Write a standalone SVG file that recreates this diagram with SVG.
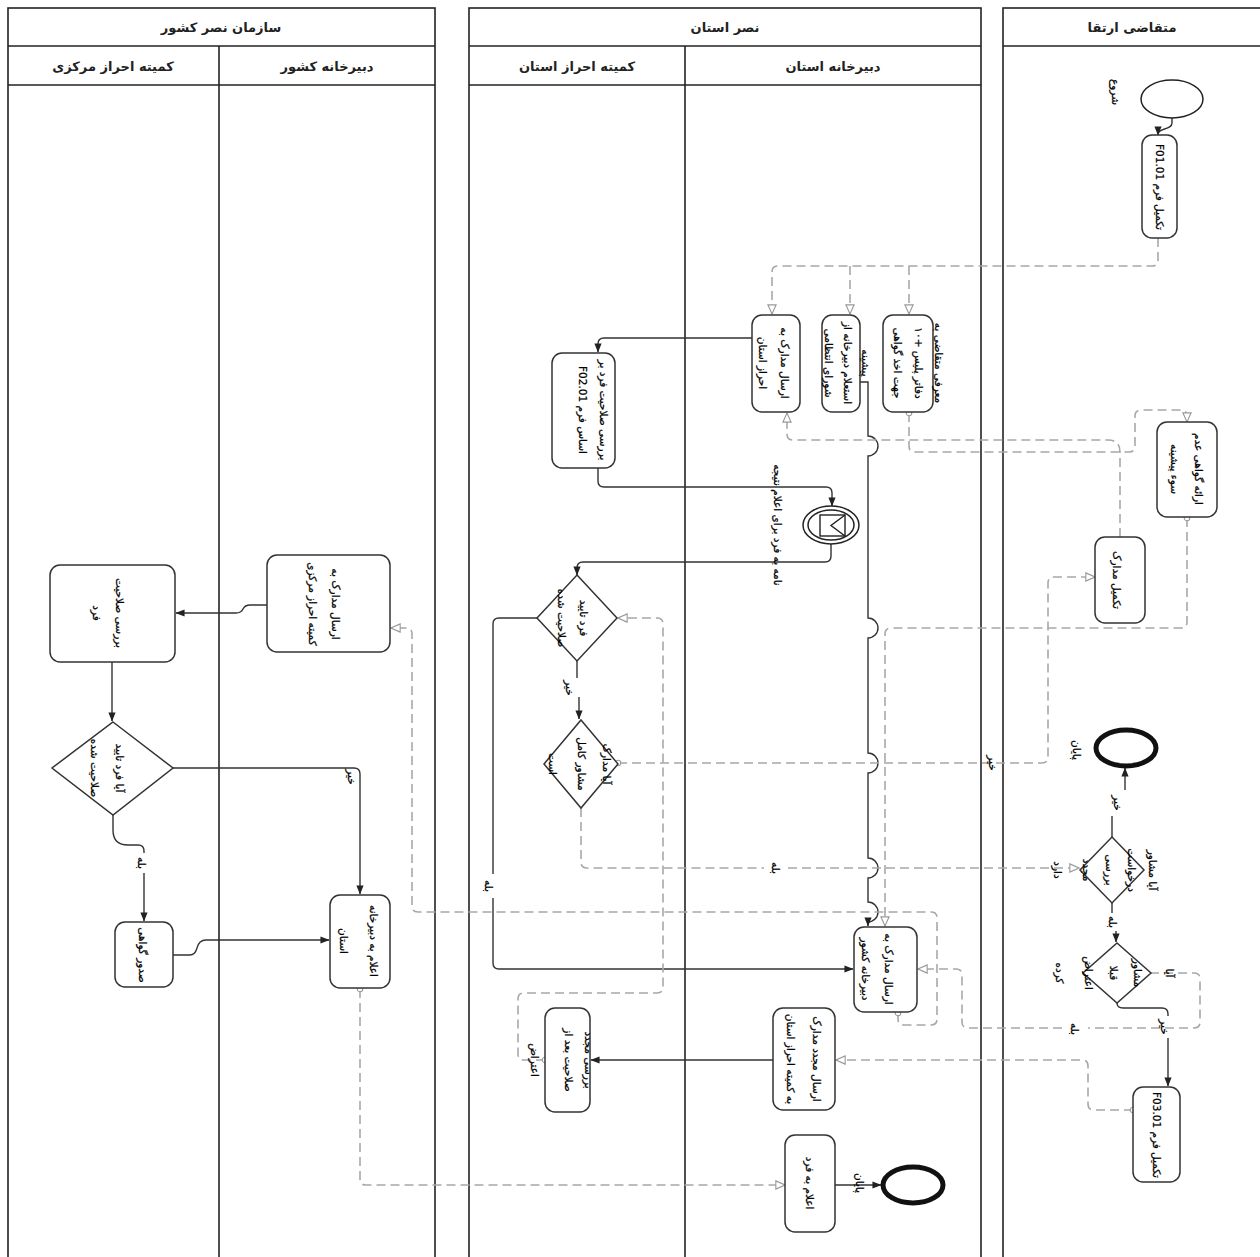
<svg xmlns="http://www.w3.org/2000/svg" width="1260" height="1257" viewBox="0 0 1260 1257">
<defs>
<marker id="af" viewBox="0 0 10 10" refX="9.5" refY="5" markerWidth="9" markerHeight="9" orient="auto" markerUnits="userSpaceOnUse"><path d="M0,1 L10,5 L0,9 z" fill="#222"/></marker>
<marker id="ao" viewBox="0 0 12 12" refX="11" refY="6" markerWidth="11" markerHeight="11" orient="auto" markerUnits="userSpaceOnUse"><path d="M1,1.5 L11,6 L1,10.5 z" fill="#fff" stroke="#999" stroke-width="1.2"/></marker>
<marker id="co" viewBox="0 0 10 10" refX="5" refY="5" markerWidth="8" markerHeight="8" markerUnits="userSpaceOnUse"><circle cx="5" cy="5" r="3.5" fill="#fff" stroke="#999" stroke-width="1.3"/></marker>
</defs>
<style>
.pool{fill:none;stroke:#222;stroke-width:1.6}
.h{font-family:"DejaVu Sans",sans-serif;font-size:13px;font-weight:bold;fill:#222;text-anchor:middle;dominant-baseline:central;direction:rtl}
.t{font-family:"DejaVu Sans",sans-serif;font-size:10.5px;fill:#000;stroke:#000;stroke-width:0.25;text-anchor:middle;dominant-baseline:central;direction:rtl}
.n{fill:#fff;stroke:#333;stroke-width:1.5}
.ev{fill:#fff;stroke:#222;stroke-width:1.5}
.end{fill:#fff;stroke:#111;stroke-width:5}
.sf{fill:none;stroke:#333;stroke-width:1.4}
.mf{fill:none;stroke:#a8a8a8;stroke-width:1.6;stroke-dasharray:9 5}
</style>
<rect width="1260" height="1257" fill="#fff"/>

<g id="pools">
<rect class="pool" x="8" y="8" width="427" height="1262"/>
<line class="pool" x1="8" y1="46" x2="435" y2="46"/>
<line class="pool" x1="8" y1="85" x2="435" y2="85"/>
<line class="pool" x1="219" y1="46" x2="219" y2="1257"/>
<text class="h" x="221" y="27">سازمان نصر کشور</text>
<text class="h" x="113" y="66">کمیته احراز مرکزی</text>
<text class="h" x="327" y="66">دبیرخانه کشور</text>

<rect class="pool" x="469" y="8" width="512" height="1262"/>
<line class="pool" x1="469" y1="46" x2="981" y2="46"/>
<line class="pool" x1="469" y1="85" x2="981" y2="85"/>
<line class="pool" x1="685" y1="46" x2="685" y2="1257"/>
<text class="h" x="725" y="27">نصر استان</text>
<text class="h" x="577" y="66">کمیته احراز استان</text>
<text class="h" x="833" y="66">دبیرخانه استان</text>

<rect class="pool" x="1003" y="8" width="270" height="1262"/>
<line class="pool" x1="1003" y1="46" x2="1262" y2="46"/>
<text class="h" x="1132" y="27">متقاضی ارتقا</text>
</g>

<g id="connectors">
<path class="sf" d="M1172,118 V123 C1172,130 1158,128 1158,134 V135" marker-end="url(#af)"/>
<path class="mf" d="M1158,238 V260 Q1158,266 1152,266 H778 Q772,266 772,272 V314" marker-end="url(#ao)"/>
<path class="mf" d="M850,266 V314" marker-end="url(#ao)"/>
<path class="mf" d="M909,266 V314" marker-end="url(#ao)"/>
<path class="sf" d="M860,382 H868 V436 a10,10 0 0 1 0,20 V618 a10,10 0 0 1 0,20 V753 a10,10 0 0 1 0,20 V858 a10,10 0 0 1 0,20 V902 a10,10 0 0 1 0,20 V926" marker-end="url(#af)"/>
<path class="sf" d="M752,338 H604 Q598,338 598,344 V352" marker-end="url(#af)"/>
<path class="sf" d="M598,468 V481 Q598,487 604,487 H826 Q832,487 832,493 V506" marker-end="url(#af)"/>
<path class="sf" d="M831,544 V556 Q831,562 825,562 H583 Q577,562 577,568 V575" marker-end="url(#af)"/>
<path class="sf" d="M577,661 V678"/>
<path class="sf" d="M579,697 V719" marker-end="url(#af)"/>
<path class="sf" d="M537,618 H499 Q493,618 493,624 V874"/>
<path class="sf" d="M493,898 V963 Q493,969 499,969 H853" marker-end="url(#af)"/>
<path class="mf" d="M581,808 V862 Q581,868 587,868 H764"/>
<path class="mf" d="M788,868 H1079" marker-end="url(#ao)"/>
<path class="mf" d="M618,763 H1042 Q1048,763 1048,757 V583 Q1048,577 1054,577 H1095" marker-start="url(#co)" marker-end="url(#ao)"/>
<path class="mf" d="M1120,537 V452 Q1120,440 1108,440 H793 Q787,440 787,434 V413" marker-end="url(#ao)"/>
<path class="mf" d="M909,413 V446 Q909,452 915,452 H1129 Q1135,452 1135,446 V416 Q1135,410 1141,410 H1181 Q1187,410 1187,416 V422" marker-start="url(#co)" marker-end="url(#ao)"/>
<path class="mf" d="M1187,518 V622 Q1187,628 1181,628 H891 Q885,628 885,634 V926" marker-start="url(#co)" marker-end="url(#ao)"/>
<path class="mf" d="M545,1060 H524 Q518,1060 518,1054 V999 Q518,993 524,993 H657 Q663,993 663,987 V624 Q663,618 657,618 H618" marker-start="url(#co)" marker-end="url(#ao)"/>
<path class="sf" d="M1112,837 V816"/>
<path class="sf" d="M1125,790 V768" marker-end="url(#af)"/>
<path class="sf" d="M1112,903 V913"/>
<path class="sf" d="M1116,931 V942" marker-end="url(#af)"/>
<path class="sf" d="M1117,1003 Q1117,1008 1123,1008 H1162 Q1168,1008 1168,1014 V1016"/>
<path class="sf" d="M1168,1038 V1086" marker-end="url(#af)"/>
<path class="mf" d="M1150,973 H1194 Q1200,973 1200,979 V1022 Q1200,1028 1194,1028 H1088"/>
<path class="mf" d="M1062,1028 H968 Q962,1028 962,1022 V975 Q962,969 956,969 H918" marker-end="url(#ao)"/>
<path class="mf" d="M898,1013 V1019 Q898,1025 904,1025 H931 Q937,1025 937,1019 V918 Q937,912 931,912 H418 Q412,912 412,906 V634 Q412,628 406,628 H391" marker-start="url(#co)" marker-end="url(#ao)"/>
<path class="sf" d="M267,605 H250 Q245,605 243,609 Q241,613 236,613 H176" marker-end="url(#af)"/>
<path class="sf" d="M112,662 V721" marker-end="url(#af)"/>
<path class="sf" d="M173,768 H354 Q360,768 360,774 V894" marker-end="url(#af)"/>
<path class="sf" d="M113,815 V830 Q113,845 128,845 H138 Q144,845 144,851 V853"/>
<path class="sf" d="M144,873 V921" marker-end="url(#af)"/>
<path class="sf" d="M173,955 H190 Q195,955 197,948 Q199,940 206,940 H329" marker-end="url(#af)"/>
<path class="mf" d="M360,989 V1179 Q360,1185 366,1185 H785" marker-start="url(#co)" marker-end="url(#ao)"/>
<path class="sf" d="M835,1185 H881" marker-end="url(#af)"/>
<path class="mf" d="M1133,1110 H1094 Q1088,1110 1088,1104 V1066 Q1088,1060 1082,1060 H836" marker-start="url(#co)" marker-end="url(#ao)"/>
<path class="sf" d="M773,1060 H591" marker-end="url(#af)"/>
<text class="t" transform="translate(570,688) rotate(90)">خیر</text>
<text class="t" transform="translate(489,886) rotate(90)">بله</text>
<text class="t" transform="translate(776,868) rotate(90)">بله</text>
<text class="t" transform="translate(993,763) rotate(90)">خیر</text>
<text class="t" transform="translate(1118,803) rotate(90)">خیر</text>
<text class="t" transform="translate(1113,922) rotate(90)">بله</text>
<text class="t" transform="translate(1165,1027) rotate(90)">خیر</text>
<text class="t" transform="translate(1075,1029) rotate(90)">بله</text>
<text class="t" transform="translate(352,777) rotate(90)">خیر</text>
<text class="t" transform="translate(142,863) rotate(90)">بله</text>
</g>

<g id="start">
<ellipse class="ev" cx="1172" cy="99" rx="31" ry="19"/>
<text class="t" transform="translate(1116,92) rotate(90)">شروع</text>
</g>
<g id="f0101">
<rect class="n" x="1142" y="135" width="35" height="103" rx="10"/>
<text class="t" transform="translate(1160,187) rotate(90)">تکمیل فرم F01.01</text>
</g>
<g id="certificate">
<rect class="n" x="1157" y="422" width="60" height="95" rx="10"/>
<text class="t" transform="translate(1199,469) rotate(90)">ارائه گواهی عدم</text>
<text class="t" transform="translate(1175,469) rotate(90)">سوء پیشینه</text>
</g>
<g id="complete-docs">
<rect class="n" x="1095" y="537" width="50" height="86" rx="10"/>
<text class="t" transform="translate(1117,580) rotate(90)">تکمیل مدارک</text>
</g>
<g id="end1">
<ellipse class="end" cx="1126" cy="748" rx="30" ry="18"/>
<text class="t" transform="translate(1077,750) rotate(90)">پایان</text>
</g>
<g id="gw3">
<path class="n" d="M1112,837 L1144,870 L1112,903 L1080,870 Z"/>
<text class="t" transform="translate(1153,870) rotate(90)">آیا مشاور</text>
<text class="t" transform="translate(1132,870) rotate(90)">درخواست</text>
<text class="t" transform="translate(1110,870) rotate(90)">بررسی</text>
<text class="t" transform="translate(1087,870) rotate(90)">مجدد</text>
<text class="t" transform="translate(1058,870) rotate(90)">دارد</text>
</g>
<g id="gw4">
<path class="n" d="M1117,943 L1151,973 L1117,1003 L1083,973 Z"/>
<text class="t" transform="translate(1170,973) rotate(90)">آیا</text>
<text class="t" transform="translate(1138,973) rotate(90)">مشاور</text>
<text class="t" transform="translate(1114,973) rotate(90)">قبلا</text>
<text class="t" transform="translate(1089,973) rotate(90)">اعتراض</text>
<text class="t" transform="translate(1060,973) rotate(90)">کرده</text>
</g>
<g id="f0301">
<rect class="n" x="1133" y="1087" width="47" height="95" rx="10"/>
<text class="t" transform="translate(1157,1135) rotate(90)">تکمیل فرم F03.01</text>
</g>

<g id="send-prov">
<rect class="n" x="752" y="315" width="48" height="97" rx="10"/>
<text class="t" transform="translate(785,363) rotate(90)">ارسال مدارک به</text>
<text class="t" transform="translate(763,363) rotate(90)">احراز استان</text>
</g>
<g id="inquiry">
<rect class="n" x="822" y="315" width="38" height="97" rx="10"/>
<text class="t" transform="translate(866,363) rotate(90)">پیشینه</text>
<text class="t" transform="translate(848,363) rotate(90)">استعلام دبیرخانه از</text>
<text class="t" transform="translate(829,363) rotate(90)">شورای انتظامی</text>
</g>
<g id="police">
<rect class="n" x="883" y="315" width="50" height="97" rx="10"/>
<text class="t" transform="translate(939,363) rotate(90)">معرفی متقاضی به</text>
<text class="t" transform="translate(919,363) rotate(90)">دفاتر پلیس +۱۰</text>
<text class="t" transform="translate(898,363) rotate(90)">جهت اخذ گواهی</text>
</g>
<g id="check-f0201">
<rect class="n" x="552" y="353" width="63" height="115" rx="10"/>
<text class="t" transform="translate(604,410) rotate(90)">بررسی صلاحیت فرد بر</text>
<text class="t" transform="translate(583,410) rotate(90)">اساس فرم F02.01</text>
</g>
<g id="msg-event">
<ellipse class="ev" cx="831" cy="525" rx="28" ry="19"/>
<ellipse class="ev" cx="831" cy="525" rx="23" ry="15"/>
<rect x="820" y="515" width="25" height="21" fill="#fff" stroke="#222" stroke-width="1.4"/>
<polyline points="845,515 831,525.5 845,536" fill="none" stroke="#222" stroke-width="1.4"/>
<text class="t" transform="translate(778,525) rotate(90)">نامه به فرد برای اعلام نتیجه</text>
</g>
<g id="gw1">
<path class="n" d="M577,575 L617,618 L577,661 L537,618 Z"/>
<text class="t" transform="translate(584,618) rotate(90)">فرد تایید</text>
<text class="t" transform="translate(562,618) rotate(90)">صلاحیت شده</text>
</g>
<g id="gw2">
<path class="n" d="M581,720 L618,764 L581,808 L544,764 Z"/>
<text class="t" transform="translate(607,764) rotate(90)">آیا مدارک</text>
<text class="t" transform="translate(582,764) rotate(90)">مشاور کامل</text>
<text class="t" transform="translate(553,764) rotate(90)">است</text>
</g>
<g id="send-country">
<rect class="n" x="854" y="927" width="63" height="85" rx="10"/>
<text class="t" transform="translate(889,969) rotate(90)">ارسال مدارک به</text>
<text class="t" transform="translate(866,969) rotate(90)">دبیرخانه کشور</text>
</g>
<g id="resend">
<rect class="n" x="773" y="1008" width="62" height="102" rx="10"/>
<text class="t" transform="translate(817,1059) rotate(90)">ارسال مجدد مدارک</text>
<text class="t" transform="translate(791,1059) rotate(90)">به کمیته احراز استان</text>
</g>
<g id="recheck">
<rect class="n" x="545" y="1008" width="45" height="104" rx="10"/>
<text class="t" transform="translate(589,1060) rotate(90)">بررسی مجدد</text>
<text class="t" transform="translate(569,1060) rotate(90)">صلاحیت بعد از</text>
<text class="t" transform="translate(535,1060) rotate(90)">اعتراض</text>
</g>
<g id="notify-person">
<rect class="n" x="785" y="1135" width="50" height="97" rx="10"/>
<text class="t" transform="translate(810,1183) rotate(90)">اعلام به فرد</text>
</g>
<g id="end2">
<ellipse class="end" cx="913" cy="1185" rx="30" ry="18"/>
<text class="t" transform="translate(860,1183) rotate(90)">پایان</text>
</g>

<g id="send-central">
<rect class="n" x="267" y="555" width="123" height="97" rx="10"/>
<text class="t" transform="translate(336,604) rotate(90)">ارسال مدارک به</text>
<text class="t" transform="translate(313,604) rotate(90)">کمیته احراز مرکزی</text>
</g>
<g id="check-central">
<rect class="n" x="50" y="565" width="125" height="97" rx="10"/>
<text class="t" transform="translate(120,613) rotate(90)">بررسی صلاحیت</text>
<text class="t" transform="translate(97,613) rotate(90)">فرد</text>
</g>
<g id="gwL">
<path class="n" d="M113,722 L173,768 L113,815 L52,768 Z"/>
<text class="t" transform="translate(120,768) rotate(90)">آیا فرد تایید</text>
<text class="t" transform="translate(95,768) rotate(90)">صلاحیت شده</text>
</g>
<g id="issue">
<rect class="n" x="115" y="922" width="58" height="65" rx="10"/>
<text class="t" transform="translate(143,955) rotate(90)">صدور گواهی</text>
</g>
<g id="notify-prov">
<rect class="n" x="330" y="895" width="60" height="93" rx="10"/>
<text class="t" transform="translate(374,941) rotate(90)">اعلام به دبیرخانه</text>
<text class="t" transform="translate(344,941) rotate(90)">استان</text>
</g>
</svg>
